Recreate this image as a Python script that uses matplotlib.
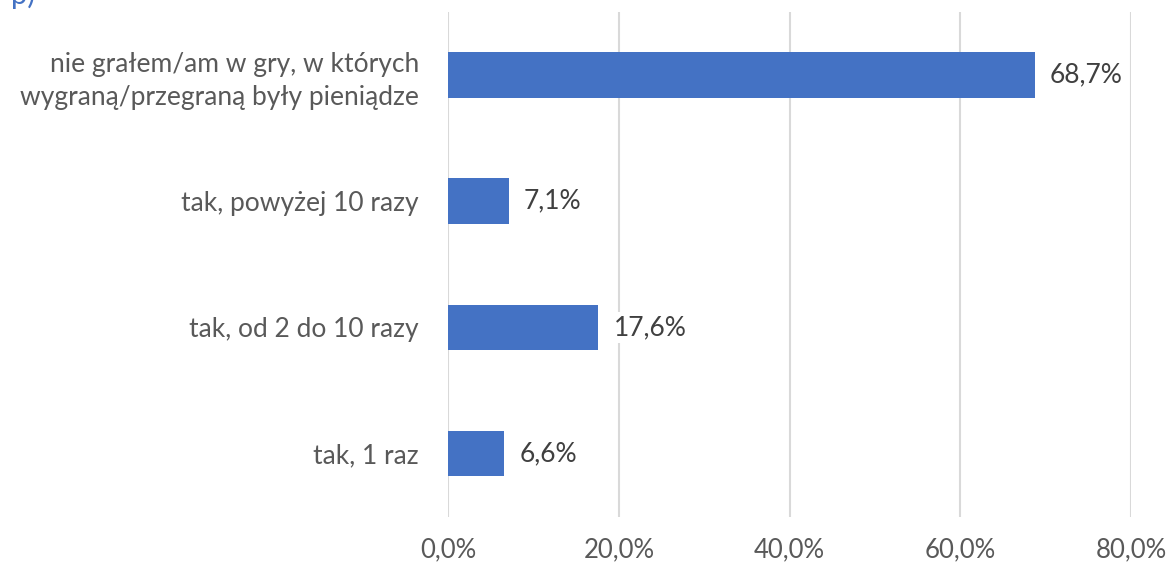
import matplotlib.pyplot as plt
from matplotlib.ticker import FuncFormatter

categories = ["tak, 1 raz", "tak, od 2 do 10 razy", "tak, powyżej 10 razy",
              "nie grałem/am w gry, w których\nwygraną/przegraną były pieniądze"]
values = [6.6, 17.6, 7.1, 68.7]
ticks = [0, 20, 40, 60, 80]

plt.rcParams['font.family'] = ['Lato', 'DejaVu Sans']

fig = plt.figure(figsize=(11.7, 5.66), dpi=100)
ax = fig.add_axes([0.383, 0.087, 0.5837, 0.892])

bar_color = '#4472C4'
text_color = '#595959'

ypos = range(len(categories))
ax.barh(ypos, values, height=0.36, color=bar_color, zorder=2)
ax.set_ylim(-0.5, len(categories) - 0.5)
ax.set_xlim(0, 80)
ax.set_xticks(ticks)
ax.xaxis.set_major_formatter(FuncFormatter(lambda v, p: f"{v:.1f}%".replace('.', ',')))
ax.set_yticks(list(ypos))
ax.set_yticklabels(categories, fontsize=19, color=text_color, linespacing=1.4)
ax.tick_params(axis='x', labelsize=18.5, labelcolor=text_color, length=0, pad=15)
ax.tick_params(axis='y', length=0, pad=21)
ax.grid(axis='x', color='#d9d9d9', linewidth=1.5, zorder=0)
for s in ax.spines.values():
    s.set_visible(False)

for y, v in zip(ypos, values):
    ax.text(v + 1.8, y, f"{v:.1f}%".replace('.', ','), va='center', ha='left',
            fontsize=19, color='#404040', zorder=3,
            bbox=dict(facecolor='white', edgecolor='none', pad=2))

# clipped title fragment at the very top
fig.text(0.009, 1 - 4 / 566, "p)", color=bar_color, fontsize=21, va='baseline', ha='left')

fig.savefig("out.png", dpi=100)
